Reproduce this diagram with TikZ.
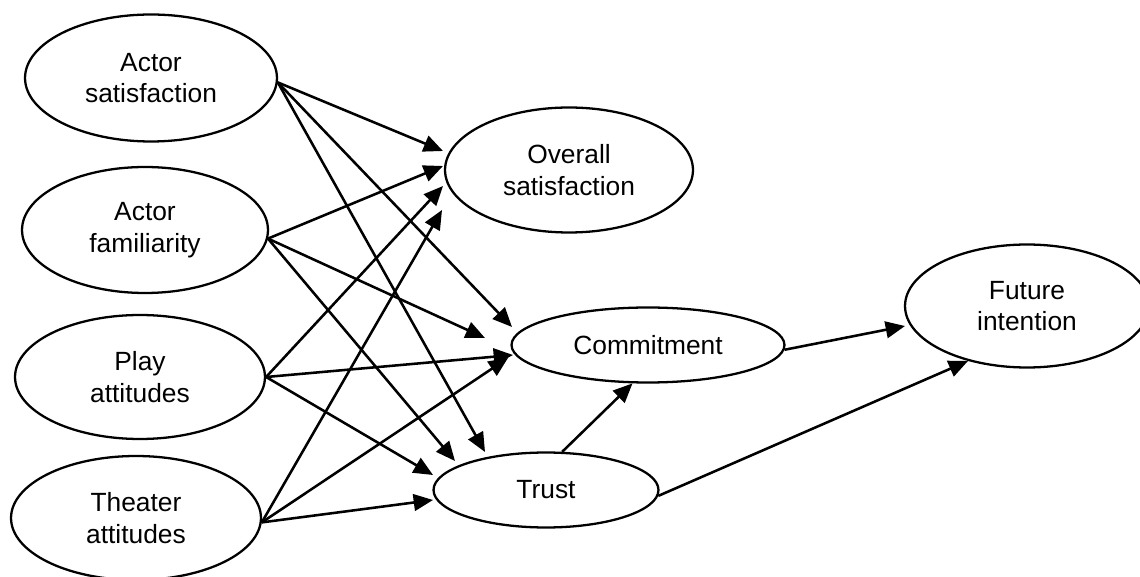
\documentclass[tikz,border=0pt]{standalone}
\usepackage{fontspec}
\setmainfont{Liberation Sans}
\usetikzlibrary{shapes.geometric,arrows.meta}
\begin{document}
\begin{tikzpicture}[x=0.02cm,y=-0.02cm,
  construct/.style={draw, ellipse, line width=1.3pt, inner sep=0pt, align=center,
    font=\fontsize{15pt}{18pt}\selectfont},
  path/.style={line width=1.45pt, -{Triangle[length=11pt,width=9.5pt]}}]
  \useasboundingbox (0,0) rectangle (1140,577);

  % exogenous constructs
  \node[construct, minimum width=5.04cm, minimum height=2.54cm] (as) at (151,78) {Actor\\satisfaction};
  \node[construct, minimum width=4.92cm, minimum height=2.52cm] (af) at (145,230) {Actor\\familiarity};
  \node[construct, minimum width=5.0cm, minimum height=2.48cm] (pa) at (140,377) {Play\\attitudes};
  \node[construct, minimum width=5.0cm, minimum height=2.48cm] (ta) at (136,518) {Theater\\attitudes};

  % mediating and outcome constructs
  \node[construct, minimum width=4.96cm, minimum height=2.5cm] (os) at (569,170) {Overall\\satisfaction};
  \node[construct, minimum width=5.46cm, minimum height=1.5cm] (com) at (648,345) {Commitment};
  \node[construct, minimum width=4.5cm, minimum height=1.5cm] (tr) at (546,490) {Trust};
  \node[construct, minimum width=4.88cm, minimum height=2.46cm] (fut) at (1027,306) {Future\\intention};

  % arrow tips stacked in front of the targets
  \coordinate (os1) at (443,151);
  \coordinate (os2) at (443,166);
  \coordinate (os3) at (443,186);
  \coordinate (os4) at (442,210);
  \coordinate (com1) at (512,327);
  \coordinate (com2) at (485,338);
  \coordinate (com3) at (513,355);
  \coordinate (com4) at (508,358);
  \coordinate (tr1) at (485,452);
  \coordinate (tr2) at (455,461);
  \coordinate (tr3) at (433,475);
  \coordinate (tr4) at (433,500);
  \coordinate (fut1) at (905,326);

  % paths from the exogenous constructs
  \draw[path] (as.-2) -- (os1);
  \draw[path] (as.-2) -- (com1);
  \draw[path] (as.-2) -- (tr1);
  \draw[path] (af.-4) -- (os2);
  \draw[path] (af.-4) -- (com2);
  \draw[path] (af.-4) -- (tr2);
  \draw[path] (pa.east) -- (os3);
  \draw[path] (pa.east) -- (com3);
  \draw[path] (pa.east) -- (tr3);
  \draw[path] (ta.-2) -- (os4);
  \draw[path] (ta.-2) -- (com4);
  \draw[path] (ta.-2) -- (tr4);

  % paths among the mediators and to the outcome
  \draw[path] (tr.67) -- (com.-112);
  \draw[path] (com.-2) -- (fut1);
  \draw[path] (tr.-3) -- (fut.223);
\end{tikzpicture}
\end{document}
